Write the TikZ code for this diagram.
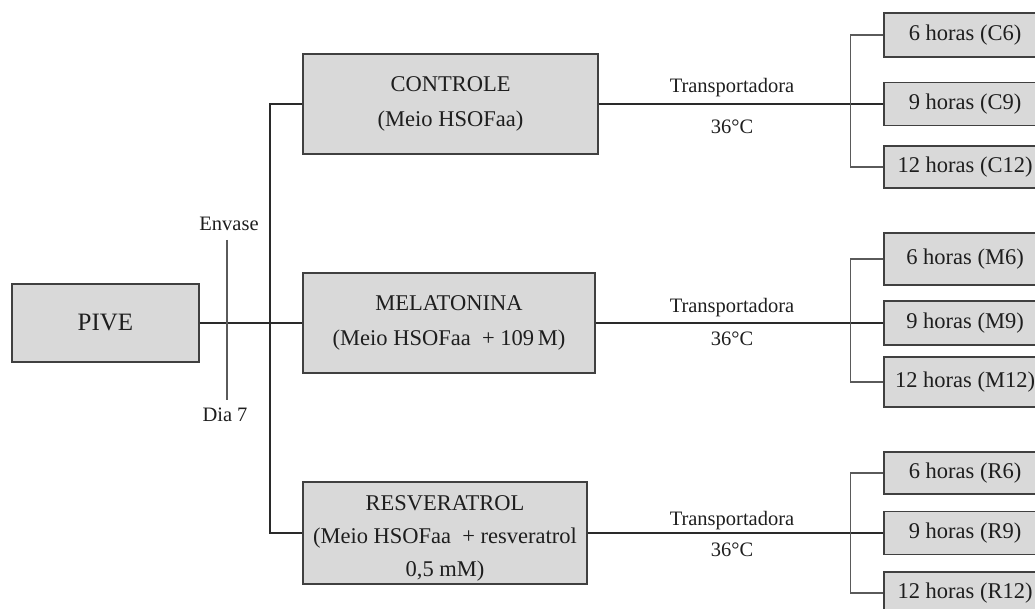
\documentclass[tikz,border=0pt]{standalone}
\usepackage{fontspec}
\setmainfont{Liberation Serif}
\definecolor{boxfill}{HTML}{D9D9D9}
\definecolor{boxline}{HTML}{404040}
\definecolor{txt}{HTML}{1E1E1E}
\definecolor{conn}{HTML}{2A2A2A}
\definecolor{brk}{HTML}{5A5A5A}
\begin{document}
\begin{tikzpicture}[x=1pt,y=-1pt,
  box/.style={draw=boxline, fill=boxfill, line width=1.2pt, inner sep=0pt, align=center, text=txt},
  bigbox/.style={box, font=\fontsize{22.5}{35}\selectfont},
  hbox/.style={box, minimum width=162pt, font=\fontsize{22.5}{26}\selectfont},
  lbl/.style={inner sep=0pt, text=txt, font=\fontsize{20.5}{24}\selectfont},
  con/.style={draw=conn, line width=1.2pt},
  brline/.style={draw=brk, line width=1.3pt}
]
\useasboundingbox (0,0) rectangle (1035,609);
% left
\node[box, font=\fontsize{25}{30}\selectfont, minimum width=187pt, minimum height=78pt] (pive) at (105.5,323) {PIVE};
\node[bigbox, minimum width=295pt, minimum height=100pt] (ctrl) at (450.5,104) {CONTROLE\\(Meio HSOFaa)};
\node[bigbox, minimum width=292pt, minimum height=100pt] (mel) at (449,323) {MELATONINA\\(Meio HSOFaa \ + 109\,M)};
\node[box, font=\fontsize{22.5}{33}\selectfont, minimum width=284pt, minimum height=102pt] (res) at (445,533) {\rule{0pt}{26pt}RESVERATROL\\(Meio HSOFaa \ + resveratrol\\0,5 mM)};
% right boxes
\node[hbox, minimum height=44pt] (c6) at (965,35) {6 horas (C6)};
\node[hbox, minimum height=43pt] (c9) at (965,104) {9 horas (C9)};
\node[hbox, minimum height=42pt] (c12) at (965,167) {12 horas (C12)};
\node[hbox, minimum height=52pt] (m6) at (965,259) {6 horas (M6)};
\node[hbox, minimum height=44pt] (m9) at (965,323) {9 horas (M9)};
\node[hbox, minimum height=50pt] (m12) at (965,382) {12 horas (M12)};
\node[hbox, minimum height=42pt] (r6) at (965,473) {6 horas (R6)};
\node[hbox, minimum height=43pt] (r9) at (965,533) {9 horas (R9)};
\node[hbox, minimum height=42pt] (r12) at (965,593) {12 horas (R12)};
% left connectors
\coordinate (vx) at (270,323);
\draw[con] (pive.east) -- (mel.west);
\draw[con] (ctrl.west) -| (vx) |- (res.west);
\coordinate (e1) at (227,240);
\coordinate (e2) at (227,400);
\draw[brline] (e1) -- (e2);
\node[lbl, anchor=south] (env) at (229,231) {Envase};
\node[lbl, anchor=north] (dia) at (225,408) {Dia 7};
% transport lines
\draw[con] (ctrl.east) -- (c9.west);
\draw[con] (mel.east) -- (m9.west);
\draw[con] (res.east) -- (r9.west);
\node[lbl] (t1) at (732,88) {Transportadora};
\node[lbl] (d1) at (732,127) {36°C};
\node[lbl] (t2) at (732,308) {Transportadora};
\node[lbl] (d2) at (732,339) {36°C};
\node[lbl] (t3) at (732,521) {Transportadora};
\node[lbl] (d3) at (732,550) {36°C};
% brackets
\draw[brline] (c6.west) -- ++(-33,0) |- (c12.west);
\draw[brline] (m6.west) -- ++(-33,0) |- (m12.west);
\draw[brline] (r6.west) -- ++(-33,0) |- (r12.west);
\end{tikzpicture}
\end{document}
